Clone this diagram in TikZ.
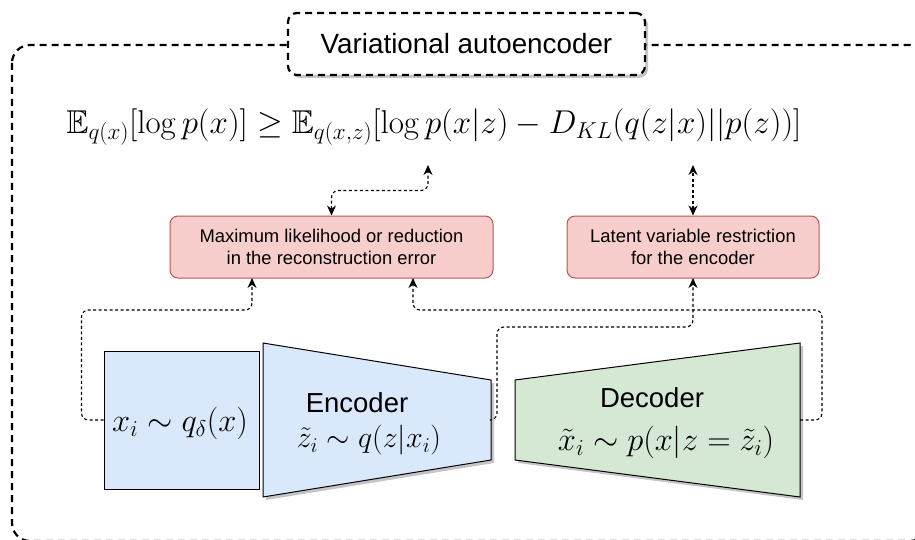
\RequirePackage{fix-cm}
\documentclass[tikz,border=0pt]{standalone}
\usepackage{amsmath,amssymb}
\DeclareFontFamily{U}{msb}{}
\DeclareFontShape{U}{msb}{m}{n}{<-6>msbm5<6-8>msbm7<8->msbm10}{}
\usepackage[no-math]{fontspec}
\setmainfont{Liberation Sans}
\usetikzlibrary{arrows.meta,shadows}

\definecolor{boxblue}{HTML}{DAE8FC}
\definecolor{boxgreen}{HTML}{D5E8D4}
\definecolor{boxred}{HTML}{F8CECC}
\definecolor{linered}{HTML}{B85450}

\begin{document}
\begin{tikzpicture}[x=1pt,y=-1pt]
    \tikzstyle{redbox}=[draw=linered, fill=boxred, rounded corners=8pt, line width=1pt, minimum height=62pt, align=center, font=\fontsize{18.4}{21.5}\selectfont]
    \tikzstyle{conn}=[dash pattern=on 3pt off 2.5pt, line width=1.1pt, rounded corners=7pt, >={Stealth[length=10pt,width=9pt]}]
    \tikzstyle{frame}=[line width=2.2pt, dash pattern=on 7pt off 5pt]
    \tikzstyle{shade}=[drop shadow={shadow xshift=3pt, shadow yshift=-3pt, fill=black!45, opacity=0.5}]
    \useasboundingbox (0,0) rectangle (915,540);
    \clip (0,0) rectangle (915,540);
    % outer frame
    \draw[frame, rounded corners=18pt] (12,45) rectangle (928,541);
    \node[frame, draw, fill=white, rounded corners=9pt, shade, minimum width=357pt, minimum height=62pt, font=\fontsize{27.8}{32}\selectfont] (title) at (466.5,44) {Variational autoencoder};
    % bound
    \node (elbo) at (434,127) {\fontsize{33}{38}\selectfont $\mathbb{E}_{q(x)}[\log p(x)] \geq \mathbb{E}_{q(x,z)}[\log p(x|z) - D_{KL}(q(z|x)||p(z))]$};
    \coordinate (e1) at (428,165);
    \coordinate (e2) at (693,165);
    \node[redbox, minimum width=323pt] (mle) at (331.5,247) {Maximum likelihood or reduction\\in the reconstruction error};
    \node[redbox, minimum width=252pt] (kl) at (693,247) {Latent variable restriction\\for the encoder};
    \coordinate (mleA) at (252,278);
    \coordinate (mleB) at (413,278);
    \coordinate (klS) at (693,278);
    % input
    \node[draw, fill=boxblue, line width=1pt, minimum width=155pt, minimum height=138pt] (xin) at (181.5,420) {};
    \node (xint) at (180,423) {\fontsize{32.5}{36}\selectfont $x_i \sim q_\delta(x)$};
    % encoder
    \coordinate (encR) at (491,420);
    \draw[fill=boxblue, line width=1pt, shade] (263,343) -- (491,380) -- (491,460) -- (263,497) -- cycle;
    \node[font=\fontsize{27.5}{32}\selectfont] (enct) at (357,403) {Encoder};
    \node (encm) at (369,440) {\fontsize{30}{34}\selectfont $\tilde{z}_i \sim q(z|x_i)$};
    % decoder
    \coordinate (decR) at (800,420);
    \draw[fill=boxgreen, line width=1pt, shade] (515,380) -- (800,343) -- (800,497) -- (515,460) -- cycle;
    \node[font=\fontsize{27.5}{32}\selectfont] (dect) at (652,398) {Decoder};
    \node (decm) at (666,442) {\fontsize{32.5}{36}\selectfont $\tilde{x}_i \sim p(x|z=\tilde{z}_i)$};
    % connectors
    \draw[conn, <->] (mle.north) -- ++(0,-25) -| (e1);
    \draw[conn, <->] (kl.north) -- (e2);
    \draw[conn, ->] (xin.west) -- ++(-22,0) |- ([yshift=-32pt]mleA) -- (mleA);
    \draw[conn, ->] (encR) -- ++(6,0) |- ([yshift=-49pt]klS) -- (klS);
    \draw[conn, ->] (decR) -- ++(22,0) |- ([yshift=-32pt]mleB) -- (mleB);
\end{tikzpicture}
\end{document}
